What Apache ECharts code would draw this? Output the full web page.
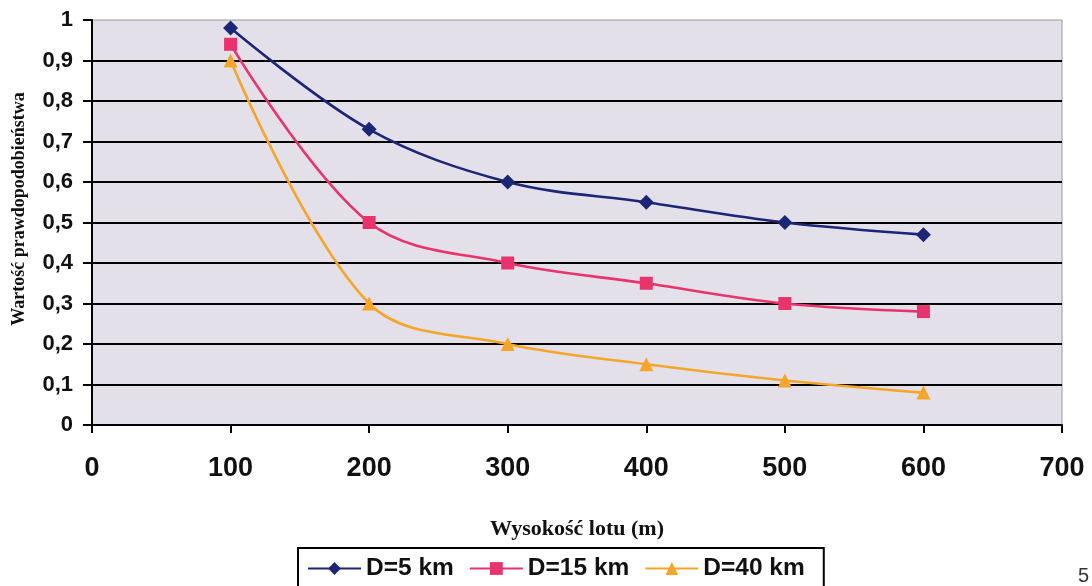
<!DOCTYPE html>
<html><head><meta charset="utf-8">
<script src="https://cdn.jsdelivr.net/npm/echarts@6/dist/echarts.min.js"></script>
<style>html,body{margin:0;padding:0;background:#fff}#c{width:1092px;height:586px}</style>
</head><body><div id="c"></div>
<script>
const heights = [100, 200, 300, 400, 500, 600];
const d5 = [0.98, 0.73, 0.60, 0.55, 0.50, 0.47];
const d15 = [0.94, 0.50, 0.40, 0.35, 0.30, 0.28];
const d40 = [0.90, 0.30, 0.20, 0.15, 0.11, 0.08];
const names = ['D=5 km', 'D=15 km', 'D=40 km'];
const yTitle = 'Wartość prawdopodobieństwa';
const xTitle = 'Wysokość lotu (m)';

const chart = echarts.init(document.getElementById('c'));
const pair = arr => heights.map((h, i) => [h, arr[i]]);
const mk = (name, data, color, symbol, size) => ({
  name, type: 'line', data: pair(data), smooth: 0.35,
  symbol, symbolSize: size,
  lineStyle: { color, width: 2.6 },
  itemStyle: { color },
  z: 5
});
chart.setOption({
  animation: false,
  grid: { left: 92, right: 30, top: 20, bottom: 161, show: true, backgroundColor: '#e4e0e9',
          borderWidth: 1, borderColor: '#9a98a0', outerBoundsMode: 'none', containLabel: false },
  xAxis: {
    type: 'value', min: 0, max: 700, interval: 100,
    name: xTitle, nameLocation: 'middle', nameGap: 93,
    nameTextStyle: { fontFamily: 'Liberation Serif', fontWeight: 'bold', fontSize: 22, color: '#111' },
    axisLine: { lineStyle: { color: '#000', width: 2 } },
    axisTick: { show: true, length: 8, lineStyle: { color: '#000', width: 2 } },
    axisLabel: { margin: 30, fontFamily: 'Liberation Sans', fontWeight: 'bold', fontSize: 27, color: '#111' },
    splitLine: { show: false }
  },
  yAxis: {
    type: 'value', min: 0, max: 1, interval: 0.1,
    axisLine: { show: true, lineStyle: { color: '#000', width: 2 } },
    axisTick: { show: true, length: 9, lineStyle: { color: '#000', width: 2 } },
    axisLabel: { margin: 19, fontFamily: 'Liberation Sans', fontWeight: 'bold', fontSize: 22, color: '#111',
      formatter: v => (Math.round(v * 10) / 10).toString().replace('.', ',') },
    splitLine: { show: true, showMaxLine: false, lineStyle: { color: '#000', width: 2 } }
  },
  legend: {
    data: names, left: 298, top: 548,
    itemWidth: 53, itemHeight: 16, itemGap: 15,
    borderColor: '#000', borderWidth: 2, padding: [8, 19, 10, 9],
    textStyle: { fontFamily: 'Liberation Sans', fontWeight: 'bold', fontSize: 24.5, color: '#111' }
  },
  graphic: [
    { type: 'text', x: 19.5, y: 209, rotation: Math.PI / 2,
      style: { text: yTitle, font: 'bold 18px "Liberation Serif"', fill: '#111', align: 'center', verticalAlign: 'middle' } },
    { type: 'text', left: 1078, top: 566, style: { text: '5', font: '20px "Liberation Sans"', fill: '#333' } }
  ],
  series: [
    mk(names[0], d5, '#1c2676', 'diamond', 15),
    mk(names[1], d15, '#e8336c', 'rect', 13),
    mk(names[2], d40, '#f5a52a', 'triangle', 14)
  ]
});
</script></body></html>
